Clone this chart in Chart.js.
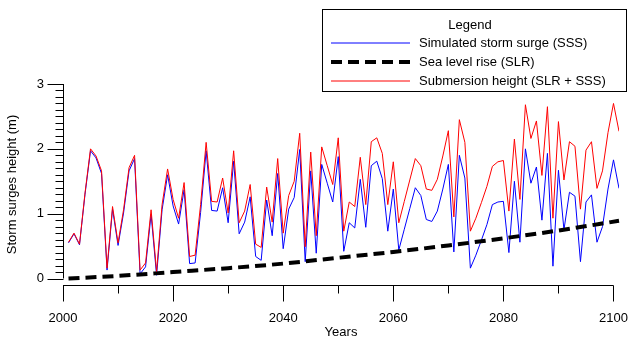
<!DOCTYPE html>
<html>
<head>
<meta charset="utf-8">
<script src="https://cdn.jsdelivr.net/npm/chart.js@4.4.1/dist/chart.umd.min.js"></script>
<style>
  body { margin: 0; background: #fff; }
  #wrap { width: 630px; height: 340px; }
</style>
</head>
<body>
<div id="wrap"><canvas id="myChart" width="630" height="340"></canvas></div>
<script>
// years 2001 .. 2101
let years = [];
for (let y = 2001; y <= 2101; y++) years.push(y);

// simulated storm surge (SSS)
let sss = [
  0.55, 0.69, 0.52, 1.30, 1.97, 1.86, 1.62, 0.13, 1.07, 0.51,
  1.01, 1.66, 1.85, 0.07, 0.18, 0.99, 0.05, 1.06, 1.60, 1.12,
  0.84, 1.37, 0.23, 0.24, 1.02, 1.97, 1.05, 1.04, 1.40, 0.86,
  1.81, 0.69, 0.87, 1.26, 0.34, 0.28, 1.21, 0.66, 1.62, 0.46,
  1.07, 1.25, 1.99, 0.26, 1.66, 0.39, 1.76, 1.47, 1.18, 1.88,
  0.42, 0.86, 0.78, 1.53, 0.79, 1.74, 1.81, 1.54, 0.73, 1.38,
  0.44, 0.76, 1.08, 1.40, 1.28, 0.91, 0.88, 1.04, 1.38, 1.76,
  0.41, 1.90, 1.55, 0.16, 0.36, 0.59, 0.83, 1.14, 1.18, 1.19,
  0.40, 1.50, 0.56, 2.00, 1.47, 1.72, 0.90, 1.93, 0.19, 1.67,
  0.75, 1.33, 1.27, 0.26, 1.18, 1.29, 0.56, 0.80, 1.38, 1.83,
  1.39
];

// submersion height (SLR + SSS)
let submersion = [
  0.56, 0.70, 0.53, 1.32, 2.00, 1.89, 1.66, 0.16, 1.11, 0.55,
  1.06, 1.71, 1.90, 0.13, 0.24, 1.06, 0.11, 1.14, 1.69, 1.22,
  0.93, 1.48, 0.34, 0.36, 1.14, 2.10, 1.19, 1.18, 1.55, 1.01,
  1.97, 0.86, 1.04, 1.45, 0.53, 0.48, 1.41, 0.87, 1.85, 0.70,
  1.28, 1.50, 2.24, 0.49, 1.95, 0.66, 2.03, 1.74, 1.45, 2.17,
  0.73, 1.18, 1.11, 1.87, 1.14, 2.11, 2.17, 1.93, 1.14, 1.80,
  0.86, 1.19, 1.52, 1.85, 1.74, 1.38, 1.36, 1.53, 1.89, 2.28,
  0.95, 2.45, 2.10, 0.73, 0.93, 1.17, 1.42, 1.73, 1.80, 1.82,
  1.04, 2.15, 1.22, 2.68, 2.16, 2.43, 1.59, 2.65, 0.93, 2.42,
  1.52, 2.11, 2.04, 1.07, 1.98, 2.11, 1.39, 1.66, 2.25, 2.70,
  2.27
];

// sea level rise (SLR)
let slrYears = [2001, 2010, 2020, 2030, 2040, 2050, 2060, 2070, 2080, 2090, 2101];
let slr = [0.00, 0.04, 0.10, 0.16, 0.23, 0.32, 0.41, 0.51, 0.62, 0.74, 0.89];

let xTicks = [2000, 2020, 2040, 2060, 2080, 2100];
let yTicks = [0, 1, 2, 3];

let labels = ["Simulated storm surge (SSS)", "Sea level rise (SLR)", "Submersion height (SLR + SSS)"];

const FONT = "'Liberation Sans', Arial, sans-serif";
Chart.defaults.font.family = FONT;
Chart.defaults.font.size = 13;
Chart.defaults.color = "#000";

function pts(xs, ys) {
  return xs.map((x, i) => ({ x: x, y: ys[i] }));
}

// offset axes with minor ticks, plus the boxed legend
const axesAndLegend = {
  id: "axesAndLegend",
  afterDraw(chart) {
    const c = chart.ctx;
    const xs = chart.scales.x;
    const ys = chart.scales.y;
    const left = Math.round(chart.chartArea.left) + 0.5;
    const bottom = Math.round(chart.chartArea.bottom) + 0.5;
    c.save();
    c.strokeStyle = "#000";
    c.lineWidth = 1;
    c.beginPath();
    // y axis
    c.moveTo(left, ys.getPixelForValue(0));
    c.lineTo(left, ys.getPixelForValue(3));
    for (let k = 0; k <= 30; k++) {
      const py = Math.round(ys.getPixelForValue(k / 10)) + 0.5;
      const len = k % 10 == 0 ? 16 : 8;
      c.moveTo(left - len, py);
      c.lineTo(left, py);
    }
    // x axis
    c.moveTo(xs.getPixelForValue(2000), bottom);
    c.lineTo(Math.round(xs.getPixelForValue(2100)) + 0.5, bottom);
    for (let yr = 2000; yr <= 2100; yr += 10) {
      const px = Math.round(xs.getPixelForValue(yr)) + 0.5;
      const len = yr % 20 == 0 ? 16 : 8;
      c.moveTo(px, bottom);
      c.lineTo(px, bottom + len);
    }
    c.stroke();

    // legend box
    c.fillStyle = "#fff";
    c.fillRect(322.5, 9.5, 304, 82);
    c.strokeRect(322.5, 9.5, 304, 82);
    c.fillStyle = "#000";
    c.font = "13px " + FONT;
    c.textBaseline = "middle";
    c.textAlign = "center";
    c.fillText("Legend", 470, 25);
    c.textAlign = "left";
    const rows = [43, 62, 81];
    chart.data.datasets.forEach((ds, i) => {
      c.save();
      c.strokeStyle = ds.borderColor;
      c.lineWidth = ds.borderWidth;
      c.setLineDash(ds.borderDash || []);
      c.beginPath();
      c.moveTo(331, rows[i]);
      c.lineTo(410, rows[i]);
      c.stroke();
      c.restore();
      c.fillText(ds.label, 419, rows[i]);
    });
    c.restore();
  }
};

new Chart(document.getElementById("myChart"), {
  type: "line",
  data: {
    datasets: [
      {
        label: labels[0],
        data: pts(years, sss),
        borderColor: "#0000ff",
        borderWidth: 1,
        pointRadius: 0,
        order: 3
      },
      {
        label: labels[1],
        data: pts(slrYears, slr),
        borderColor: "#000",
        borderWidth: 4,
        borderDash: [11, 6],
        pointRadius: 0,
        cubicInterpolationMode: "monotone",
        clip: false,
        order: 2
      },
      {
        label: labels[2],
        data: pts(years, submersion),
        borderColor: "#ff0000",
        borderWidth: 1,
        pointRadius: 0,
        order: 1
      }
    ]
  },
  options: {
    responsive: false,
    animation: false,
    devicePixelRatio: 1,
    layout: { padding: { top: 84, right: 11, left: 0, bottom: 0 } },
    plugins: { legend: { display: false }, tooltip: { enabled: false } },
    scales: {
      x: {
        type: "linear",
        min: 2000,
        max: 2101,
        grid: { display: false, drawTicks: false },
        border: { display: false },
        afterBuildTicks: (s) => { s.ticks = xTicks.map(v => ({ value: v })); },
        afterFit: (s) => { s.height = 55; s.paddingLeft = 0; s.paddingRight = 0; },
        ticks: { padding: 26, maxRotation: 0, autoSkip: false, callback: (v) => String(v) },
        title: { display: true, text: "Years", padding: { top: 0, bottom: 0 } }
      },
      y: {
        min: -0.1,
        max: 3,
        grid: { display: false, drawTicks: false },
        border: { display: false },
        afterBuildTicks: (s) => { s.ticks = yTicks.map(v => ({ value: v })); },
        afterFit: (s) => { s.width = 63; s.paddingTop = 0; s.paddingBottom = 0; },
        ticks: { padding: 19, callback: (v) => String(v) },
        title: { display: true, text: "Storm surges height (m)", padding: { top: 5, bottom: 0 } }
      }
    }
  },
  plugins: [axesAndLegend]
});
</script>
</body>
</html>
